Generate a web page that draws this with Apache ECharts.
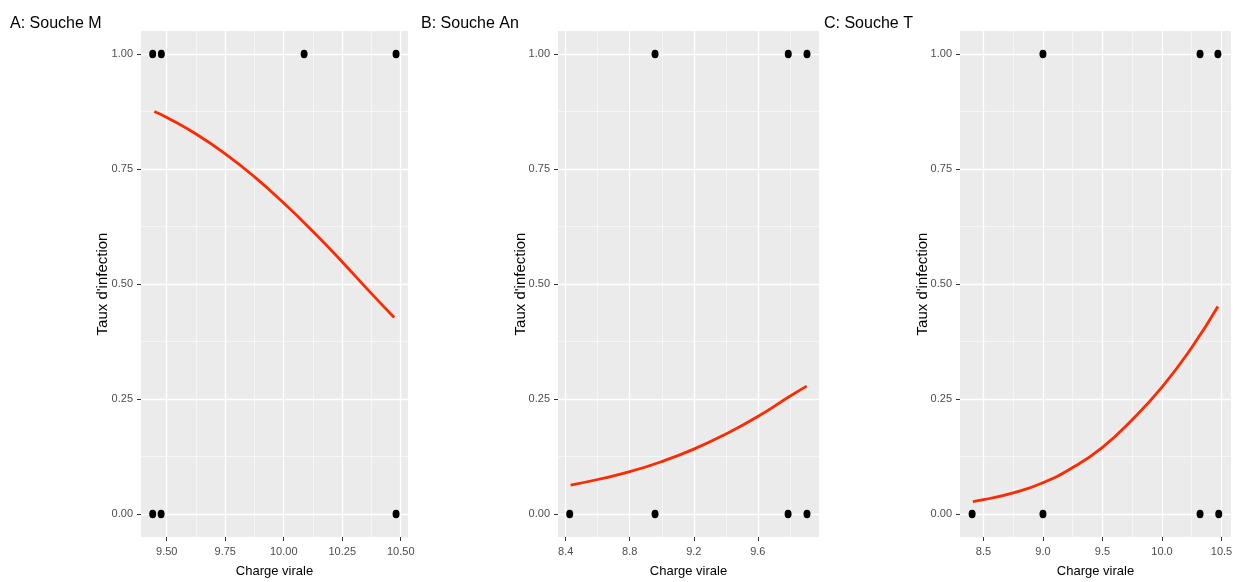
<!DOCTYPE html>
<html><head><meta charset="utf-8">
<script src="https://cdn.jsdelivr.net/npm/echarts@6/dist/echarts.min.js"></script>
<style>html,body{margin:0;padding:0;background:#fff}#c{width:1235px;height:582px}</style>
</head><body><div id="c"></div>
<script>
// ---- data ----
const panelTitles = ['A: Souche M', 'B: Souche An', 'C: Souche T'];
const xTitle = 'Charge virale';
const yTitle = "Taux d'infection";
const yTicks = [0, 0.25, 0.5, 0.75, 1];
const yTickLabels = ['0.00', '0.25', '0.50', '0.75', '1.00'];
const yMinor = [0.125, 0.375, 0.625, 0.875];

const xTicksA = [9.5, 9.75, 10, 10.25, 10.5];
const xTickLabelsA = ['9.50', '9.75', '10.00', '10.25', '10.50'];
const xMinorA = [9.625, 9.875, 10.125, 10.375];
const xTicksB = [8.4, 8.8, 9.2, 9.6];
const xTickLabelsB = ['8.4', '8.8', '9.2', '9.6'];
const xMinorB = [8.6, 9.0, 9.4, 9.8];
const xTicksC = [8.5, 9, 9.5, 10, 10.5];
const xTickLabelsC = ['8.5', '9.0', '9.5', '10.0', '10.5'];
const xMinorC = [8.75, 9.25, 9.75, 10.25];

// observed points (charge virale) with infection = 1 and = 0
const infectedA = [9.44, 9.477, 10.087, 10.48];
const notInfectedA = [9.44, 9.476, 10.48];
const infectedB = [8.958, 9.79, 9.907];
const notInfectedB = [8.425, 8.958, 9.789, 9.907];
const infectedC = [9.0, 10.32, 10.47];
const notInfectedC = [8.405, 9.0, 10.32, 10.477];

// fitted curves
const curveAx = [9.447, 9.5, 9.625, 9.75, 9.875, 10.0, 10.125, 10.25, 10.375, 10.472];
const curveAy = [0.875, 0.862, 0.826, 0.783, 0.733, 0.676, 0.614, 0.548, 0.479, 0.427];
const curveBx = [8.431, 8.6, 8.8, 9.0, 9.2, 9.4, 9.6, 9.8, 9.905];
const curveBy = [0.063, 0.075, 0.092, 0.114, 0.141, 0.174, 0.212, 0.256, 0.278];
const curveCx = [8.411, 8.5, 8.75, 9.0, 9.25, 9.5, 9.75, 10.0, 10.25, 10.47];
const curveCy = [0.027, 0.031, 0.046, 0.068, 0.101, 0.145, 0.205, 0.276, 0.362, 0.451];

// axis ranges
const xRangeA = [9.39, 10.531];
const xRangeB = [8.352, 9.982];
const xRangeC = [8.303, 10.58];
const yRange = [-0.05, 1.05];

// ---- layout/style ----
const panels = [
  {left: 141, width: 267, ticks: xTicksA, labels: xTickLabelsA, minor: xMinorA, range: xRangeA,
   ones: infectedA, zeros: notInfectedA, cx: curveAx, cy: curveAy, titleLeft: 10, yNameGap: 31},
  {left: 558, width: 261, ticks: xTicksB, labels: xTickLabelsB, minor: xMinorB, range: xRangeB,
   ones: infectedB, zeros: notInfectedB, cx: curveBx, cy: curveBy, titleLeft: 421, yNameGap: 30},
  {left: 960, width: 271, ticks: xTicksC, labels: xTickLabelsC, minor: xMinorC, range: xRangeC,
   ones: infectedC, zeros: notInfectedC, cx: curveCx, cy: curveCy, titleLeft: 824, yNameGap: 30}
];
const TOP = 31, HEIGHT = 506;
const sans = "'Liberation Sans', Arial, sans-serif";

function lookup(ticks, labels) {
  return function (v) {
    const k = ticks.findIndex(t => Math.abs(t - v) < 1e-9);
    return k >= 0 ? labels[k] : '';
  };
}

const option = {animation: false, title: [], grid: [], xAxis: [], yAxis: [], series: []};

panels.forEach((p, i) => {
  option.title.push({text: panelTitles[i], left: p.titleLeft, top: 16, padding: 0,
    textStyle: {fontSize: 16, fontWeight: 'normal', color: '#000', fontFamily: sans}});
  option.grid.push({left: p.left, width: p.width, top: TOP, height: HEIGHT, show: true,
    backgroundColor: '#EBEBEB', borderWidth: 0, containLabel: false, outerBoundsMode: 'none'});
  // minor x
  option.xAxis.push({gridIndex: i, type: 'value', min: p.range[0], max: p.range[1], position: 'bottom',
    axisLine: {show: false, onZero: false}, axisTick: {show: false, customValues: p.minor},
    axisLabel: {show: false, customValues: p.minor},
    splitLine: {show: true, lineStyle: {color: '#FAFAFA', width: 0.7}}, z: 1});
  // major x
  option.xAxis.push({gridIndex: i, type: 'value', min: p.range[0], max: p.range[1], position: 'bottom',
    axisLine: {show: false, onZero: false},
    axisTick: {show: true, length: 4, customValues: p.ticks, lineStyle: {color: '#333333', width: 1}},
    axisLabel: {customValues: p.ticks, formatter: lookup(p.ticks, p.labels), color: '#4D4D4D',
      fontSize: 11, fontFamily: sans, margin: 9},
    splitLine: {show: true, lineStyle: {color: '#FFFFFF', width: 1.3}},
    name: xTitle, nameLocation: 'middle', nameGap: 28, nameMoveOverlap: false,
    nameTextStyle: {color: '#000', fontSize: 13, fontFamily: sans}, z: 2});
  // minor y
  option.yAxis.push({gridIndex: i, type: 'value', min: yRange[0], max: yRange[1], position: 'left',
    axisLine: {show: false, onZero: false}, axisTick: {show: false, customValues: yMinor},
    axisLabel: {show: false, customValues: yMinor},
    splitLine: {show: true, lineStyle: {color: '#FAFAFA', width: 0.7}}, z: 1});
  // major y
  option.yAxis.push({gridIndex: i, type: 'value', min: yRange[0], max: yRange[1], position: 'left',
    axisLine: {show: false, onZero: false},
    axisTick: {show: true, length: 4, customValues: yTicks, lineStyle: {color: '#333333', width: 1}},
    axisLabel: {customValues: yTicks, formatter: lookup(yTicks, yTickLabels), color: '#4D4D4D',
      fontSize: 11, fontFamily: sans, margin: 8},
    splitLine: {show: true, lineStyle: {color: '#FFFFFF', width: 1.3}},
    name: yTitle, nameLocation: 'middle', nameGap: p.yNameGap, nameRotate: 90, nameMoveOverlap: false,
    nameTextStyle: {color: '#000', fontSize: 15, fontFamily: sans}, z: 2});

  const xi = 2 * i + 1, yi = 2 * i + 1;
  option.series.push({type: 'scatter', xAxisIndex: xi, yAxisIndex: yi,
    data: p.ones.map(x => [x, 1]).concat(p.zeros.map(x => [x, 0])),
    symbol: 'circle', symbolSize: [7, 8.5], itemStyle: {color: '#000', opacity: 1}, z: 3});
  option.series.push({type: 'line', xAxisIndex: xi, yAxisIndex: yi,
    data: p.cx.map((x, k) => [x, p.cy[k]]), showSymbol: false, smooth: 0.5,
    lineStyle: {color: '#FF2A00', width: 2.8}, z: 4});
});

const chart = echarts.init(document.getElementById('c'), null, {renderer: 'canvas'});
chart.setOption(option);
</script></body></html>
